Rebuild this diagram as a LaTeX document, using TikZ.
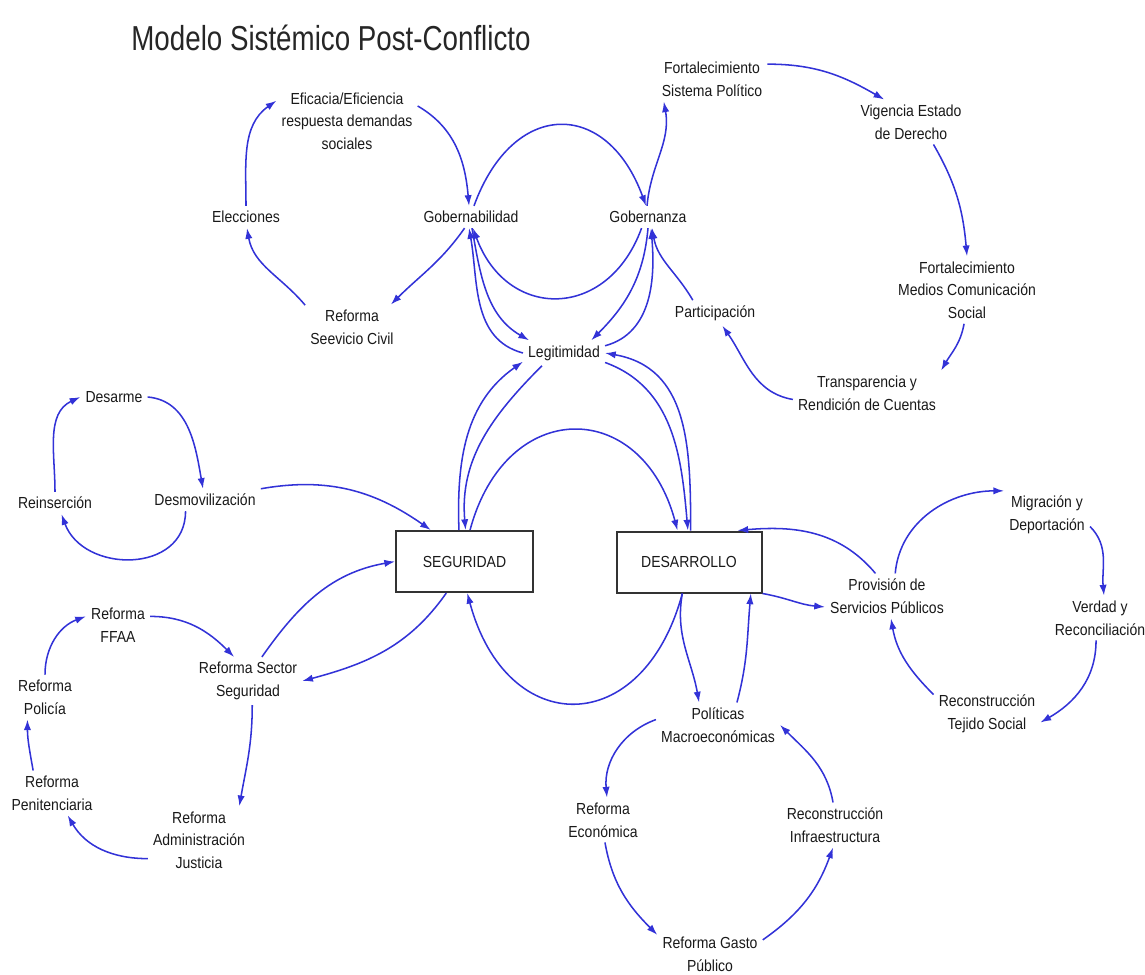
\documentclass[tikz,border=0pt]{standalone}
\usepackage{fontspec}
\setmainfont{Liberation Sans}[FakeStretch=0.875]
\newfontfamily\titulofont{Liberation Sans}[FakeStretch=0.8]
\usetikzlibrary{arrows.meta}
\definecolor{azul}{RGB}{50,50,215}
\tikzset{
	etiqueta/.style={align=center, inner sep=3.75pt, text=black!90, font=\fontsize{12}{17}\selectfont},
	caja/.style={draw=black!80, line width=1.5pt, minimum height=45.75pt, text=black!90, font=\fontsize{12}{17}\selectfont},
	lazo/.style={draw=azul, line width=1.15pt, -{Latex[length=8pt,width=5.5pt]}}
}
\begin{document}
\begin{tikzpicture}[x=0.75pt, y=0.75pt]
	\useasboundingbox (0,0) rectangle (1145,-974);
	\node (titulo) [text=black!85, font=\titulofont\fontsize{26}{30}\selectfont] at (331,-38) {Modelo Sistémico Post-Conflicto};
	\node (eficacia) [etiqueta] at (347,-121) {Eficacia/Eficiencia\\respuesta demandas\\sociales};
	\node (elecciones) [etiqueta] at (246,-217) {Elecciones};
	\node (gobnb) [etiqueta] at (471,-217) {Gobernabilidad};
	\node (gobnz) [etiqueta] at (648,-217) {Gobernanza};
	\node (servcivil) [etiqueta] at (352,-327) {Reforma\\Seevicio Civil};
	\node (fortsp) [etiqueta] at (712,-79) {Fortalecimiento\\Sistema Político};
	\node (vigencia) [etiqueta] at (911,-122) {Vigencia Estado\\de Derecho};
	\node (fortmedios) [etiqueta] at (967,-290) {Fortalecimiento\\Medios Comunicación\\Social};
	\node (particip) [etiqueta] at (715,-313) {Participación};
	\node (transp) [etiqueta] at (867,-393) {Transparencia y\\Rendición de Cuentas};
	\node (legit) [etiqueta] at (564,-353) {Legitimidad};
	\node (desarme) [etiqueta] at (114,-397) {Desarme};
	\node (reinser) [etiqueta] at (55,-503) {Reinserción};
	\node (desmov) [etiqueta] at (205,-500) {Desmovilización};
	\node (seguridad) [caja, minimum width=102.75pt] at (464.5,-561.5) {SEGURIDAD};
	\node (desarrollo) [caja, minimum width=108.75pt] at (689,-562) {DESARROLLO};
	\node (migracion) [etiqueta] at (1047,-515) {Migración y\\Deportación};
	\node (provision) [etiqueta] at (887,-596) {Provisión de\\Servicios Públicos};
	\node (verdad) [etiqueta] at (1100,-618) {Verdad y\\Reconciliación};
	\node (tejido) [etiqueta] at (987,-714) {Reconstrucción\\Tejido Social};
	\node (ffaa) [etiqueta] at (118,-625) {Reforma\\FFAA};
	\node (sector) [etiqueta] at (248,-681) {Reforma Sector\\Seguridad};
	\node (policia) [etiqueta] at (45,-697) {Reforma\\Policía};
	\node (penit) [etiqueta] at (52,-793) {Reforma\\Penitenciaria};
	\node (justicia) [etiqueta] at (199,-840) {Reforma\\Administración\\Justicia};
	\node (politicas) [etiqueta] at (718,-725) {Políticas\\Macroeconómicas};
	\node (economica) [etiqueta] at (603,-820) {Reforma\\Económica};
	\node (infra) [etiqueta] at (835,-825) {Reconstrucción\\Infraestructura};
	\node (gasto) [etiqueta] at (710,-954) {Reforma Gasto\\Público};

	\draw [lazo] (elecciones.north) to[out=90, in=215] (eficacia.164);
	\draw [lazo] (eficacia.12) to[out=-30, in=95] (gobnb.100);
	\draw [lazo] (gobnb.240) to[out=235, in=45] (servcivil.30);
	\draw [lazo] (servcivil.155) to[out=130, in=-80] (elecciones.-85);
	\draw [lazo] (gobnb.75) to[out=70, in=110, looseness=1.7] (gobnz.100);
	\draw [lazo] (gobnz.-120) to[out=-110, in=-70, looseness=1.5] (gobnb.-80);
	\draw [lazo] (gobnz.95) to[out=85, in=-80] (fortsp.205);
	\draw [lazo] (fortsp.15) to[out=0, in=150] (vigencia.140);
	\draw [lazo] (vigencia.-45) to[out=-60, in=95] (fortmedios.north);
	\draw [lazo] (fortmedios.-95) to[out=-100, in=60] (transp.north east);
	\draw [lazo] (transp.185) to[out=170, in=-55] (particip.-60);
	\draw [lazo] (particip.150) to[out=120, in=-80] (gobnz.-70);
	\draw [lazo] (gobnb.-85) to[out=-80, in=150] (legit.160);
	\draw [lazo] (legit.180) to[out=165, in=-80] (gobnb.-100);
	\draw [lazo] (gobnz.-90) to[out=-95, in=45] (legit.25);
	\draw [lazo] (legit.10) to[out=15, in=-85] (gobnz.-75);
	\draw [lazo] (seguridad.100) to[out=92, in=215] (legit.192);
	\draw [lazo] (legit.-150) to[out=-135, in=95] (seguridad.88);
	\draw [lazo] (seguridad.80) to[out=75, in=105, looseness=1.7] (desarrollo.110);
	\draw [lazo] (legit.-13) to[out=-20, in=95] (desarrollo.92);
	\draw [lazo] (desarrollo.87) to[out=90, in=-10, looseness=1.1] (legit.0);
	\draw [lazo] (desarrollo.-102) to[out=-105, in=-75, looseness=1.8] (seguridad.-85);
	\draw [lazo] (desmov.north east) to[out=10, in=145] (seguridad.137);
	\draw [lazo] (reinser.north) to[out=90, in=205] (desarme.west);
	\draw [lazo] (desarme.east) to[out=-5, in=100] (desmov.100);
	\draw [lazo] (desmov.-150) to[out=-90, in=-70, looseness=1.3] (reinser.-60);
	\draw [lazo] (ffaa.15) to[out=0, in=135] (sector.120);
	\draw [lazo] (sector.60) to[out=55, in=190] (seguridad.west);
	\draw [lazo] (seguridad.-120) to[out=-125, in=15] (sector.east);
	\draw [lazo] (sector.-80) to[out=-90, in=80] (justicia.40);
	\draw [lazo] (justicia.200) to[out=180, in=-60] (penit.-55);
	\draw [lazo] (penit.130) to[out=100, in=-90] (policia.-128);
	\draw [lazo] (policia.north) to[out=90, in=200] (ffaa.165);
	\draw [lazo] (provision.117) to[out=130, in=5] (desarrollo.33);
	\draw [lazo] (desarrollo.south east) to[out=-10, in=175] (provision.190);
	\draw [lazo] (provision.70) to[out=85, in=180] (migracion.north west);
	\draw [lazo] (migracion.-15) to[out=-45, in=95] (verdad.80);
	\draw [lazo] (verdad.-100) to[out=-90, in=30] (tejido.-9);
	\draw [lazo] (tejido.160) to[out=135, in=-80] (provision.-80);
	\draw [lazo] (desarrollo.-102) to[out=-100, in=100] (politicas.130);
	\draw [lazo] (politicas.50) to[out=75, in=-95] (desarrollo.-27);
	\draw [lazo] (politicas.175) to[out=200, in=95] (economica.80);
	\draw [lazo] (economica.-85) to[out=-80, in=135] (gasto.160);
	\draw [lazo] (gasto.15) to[out=35, in=-110] (infra.-95);
	\draw [lazo] (infra.95) to[out=100, in=-45] (politicas.east);
\end{tikzpicture}
\end{document}
